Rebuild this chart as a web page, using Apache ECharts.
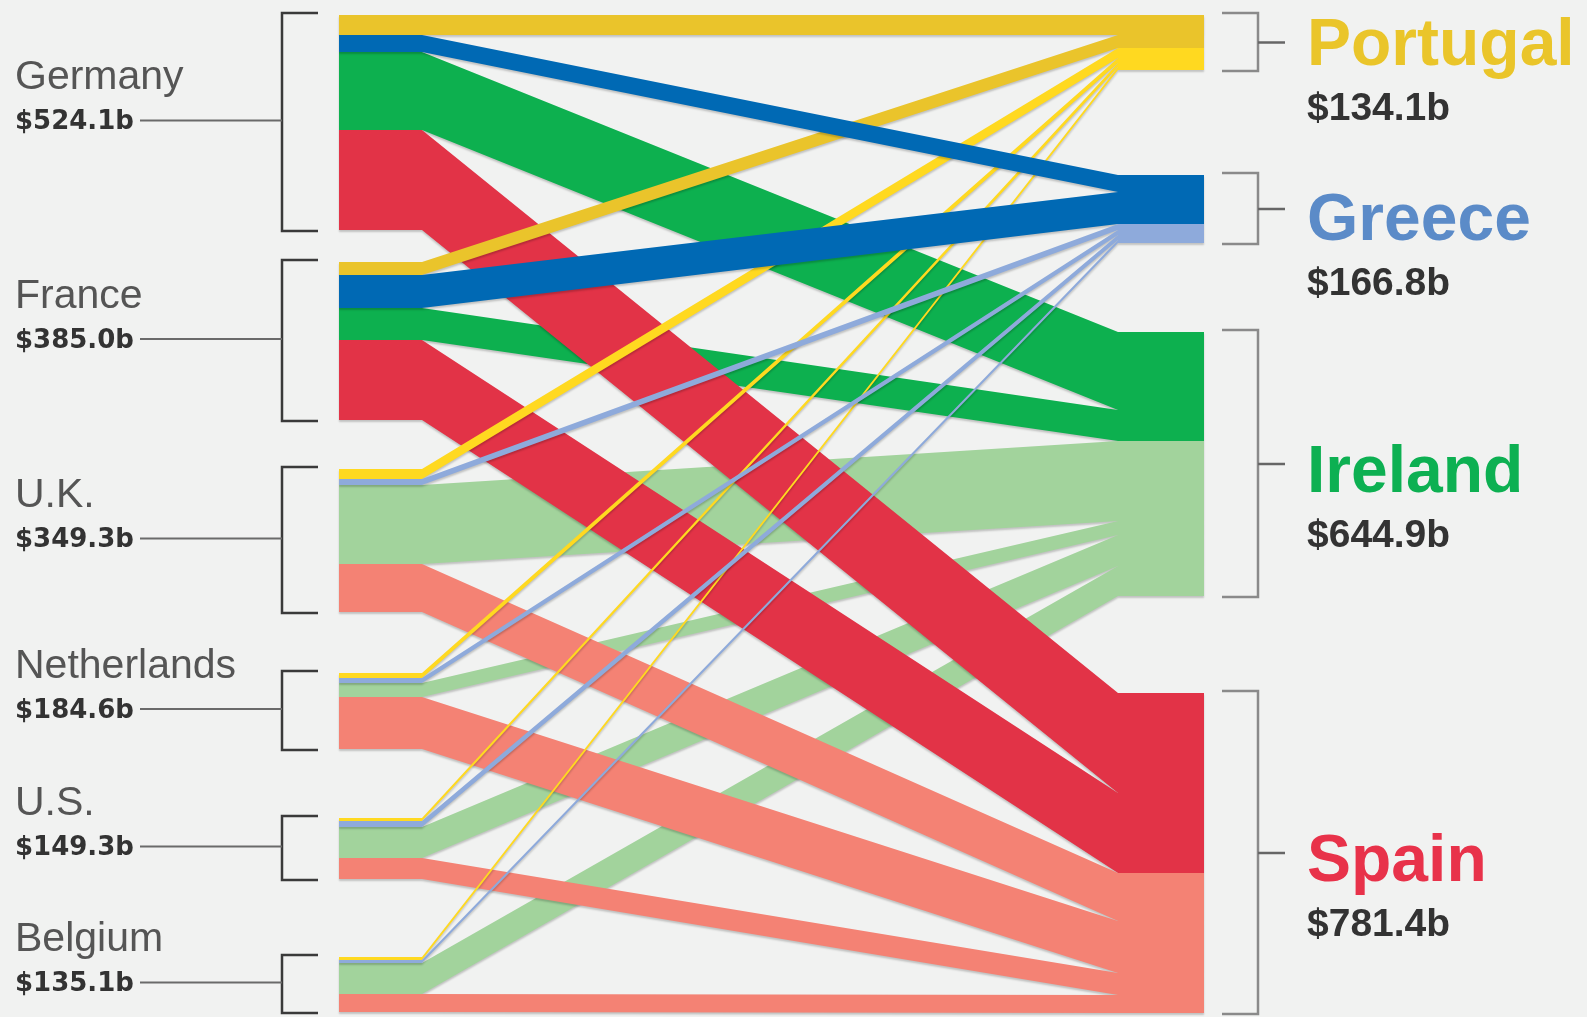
<!DOCTYPE html>
<html>
<head>
<meta charset="utf-8">
<script src="https://cdn.jsdelivr.net/npm/echarts@6/dist/echarts.min.js"></script>
<style>
  html, body { margin: 0; padding: 0; background: #F1F2F1; }
  #chart { width: 1587px; height: 1017px; }
</style>
</head>
<body>
<div id="chart"></div>
<script>
// Lenders (left) and borrowers (right), $ billions
const SOURCES = ['Germany', 'France', 'U.K.', 'Netherlands', 'U.S.', 'Belgium'];
const SOURCE_TOTALS = [524.1, 385.0, 349.3, 184.6, 149.3, 135.1];
const TARGETS = ['Portugal', 'Greece', 'Ireland', 'Spain'];
const TARGET_TOTALS = [134.1, 166.8, 644.9, 781.4];

// Exposure of each lender to each borrower, in SOURCES order
const TO_PORTUGAL = [48.8, 32.3, 24.0, 12.5, 8.8, 7.7];
const TO_GREECE   = [41.4, 79.5, 14.0, 11.5, 12.4, 8.0];
const TO_IRELAND  = [190.1, 77.0, 194.1, 34.1, 75.6, 74.0];
const TO_SPAIN    = [243.8, 196.2, 117.2, 126.5, 52.5, 45.4];
const FLOWS = [TO_PORTUGAL, TO_GREECE, TO_IRELAND, TO_SPAIN];

// ---- layout (vertical: value units, horizontal: pixel units) ----
const LEFT_GAPS = [79, 120, 148, 169, 190];
const RIGHT_GAPS = [256, 216, 236];
const Y_MAX = 2440;
const X = {
  leftStart: 339, leftEnd: 422, rightStart: 1118, rightEnd: 1204,
  leftLabel: 15, leftLine: 140, leftBracket: 282, leftTick: 318,
  rightTick: 1222, rightBracket: 1258, rightMidTick: 1285, rightLabel: 1307
};
const RIGHT_TITLE_SHIFT = [0, 9, 6, 6]; // title offset from the bracket midpoint, px

// ---- styles ----
const DARK_LENDERS = 2; // Germany and France use the deeper shade
const COLORS = {
  Portugal: { dark: '#EAC42B', light: '#FFD920', title: '#EAC52A' },
  Greece:   { dark: '#0069B4', light: '#8EAADB', title: '#5B8BC8' },
  Ireland:  { dark: '#0DB04F', light: '#A2D39C', title: '#0DB052' },
  Spain:    { dark: '#E23347', light: '#F48274', title: '#E8324A' }
};
const DRAW_ORDER = [2, 3, 0, 1]; // Ireland, Spain, then the thin Portugal / Greece strands on top

const fmt = v => '$' + v.toFixed(1) + 'b';

// Stack the blocks on each side
const leftTop = [], leftBot = [];
let acc = 0;
SOURCES.forEach((s, i) => {
  if (i > 0) acc += LEFT_GAPS[i - 1];
  leftTop.push(acc);
  FLOWS.forEach(f => { acc += f[i]; });
  leftBot.push(acc);
});
const rightTop = [], rightBot = [];
acc = 0;
TARGETS.forEach((t, j) => {
  if (j > 0) acc += RIGHT_GAPS[j - 1];
  rightTop.push(acc);
  FLOWS[j].forEach(v => { acc += v; });
  rightBot.push(acc);
});

// Band end positions: lender block stacks borrowers in order, borrower block stacks lenders in order
const bands = {};
SOURCES.forEach((s, i) => {
  let y = leftTop[i];
  FLOWS.forEach((f, j) => { bands[i + '_' + j] = { l0: y, l1: y + f[i] }; y += f[i]; });
});
TARGETS.forEach((t, j) => {
  let y = rightTop[j];
  FLOWS[j].forEach((v, i) => { const b = bands[i + '_' + j]; b.r0 = y; b.r1 = y + v; y += v; });
});
const bandData = [];
DRAW_ORDER.forEach(j => {
  SOURCES.forEach((s, i) => {
    const b = bands[i + '_' + j];
    bandData.push([i, j, b.l0, b.l1, b.r0, b.r1]);
  });
});

const groupData = [];
SOURCES.forEach((s, i) => groupData.push([0, i, leftTop[i], leftBot[i]]));
TARGETS.forEach((t, j) => groupData.push([1, j, rightTop[j], rightBot[j]]));

function renderBand(params, api) {
  const i = api.value(0), j = api.value(1);
  const l0 = api.value(2), l1 = api.value(3), r0 = api.value(4), r1 = api.value(5);
  // snap to whole pixels so stacked bands meet without seams
  const p = (x, y) => api.coord([x, y]).map(Math.round);
  const points = [
    p(X.leftStart, l0), p(X.leftEnd, l0), p(X.rightStart, r0), p(X.rightEnd, r0),
    p(X.rightEnd, r1), p(X.rightStart, r1), p(X.leftEnd, l1), p(X.leftStart, l1)
  ];
  const c = COLORS[TARGETS[j]];
  return {
    type: 'polygon',
    shape: { points: points },
    style: {
      fill: i < DARK_LENDERS ? c.dark : c.light,
      // shadow falls below the band only
      shadowBlur: 2, shadowOffsetY: 2, shadowColor: 'rgba(0,0,0,0.2)'
    }
  };
}

function textEl(text, x, y, font, fill) {
  return {
    type: 'text',
    style: {
      text: text, x: x, y: y, font: font, fill: fill,
      align: 'left', verticalAlign: 'middle',
      textAlign: 'left', textVerticalAlign: 'middle'
    }
  };
}

function renderGroup(params, api) {
  const side = api.value(0), k = api.value(1);
  const yTop = Math.round(api.coord([0, api.value(2)])[1]);
  const yBot = Math.round(api.coord([0, api.value(3)])[1]);
  const yMid = (yTop + yBot) / 2;
  const xAt = x => api.coord([x, 0])[0];
  if (side === 0) {
    const bx = xAt(X.leftBracket), tx = xAt(X.leftTick);
    const lineY = yMid - 2;
    return {
      type: 'group',
      children: [
        { type: 'polyline',
          shape: { points: [[tx, yTop - 2], [bx, yTop - 2], [bx, yBot + 1], [tx, yBot + 1]] },
          style: { stroke: '#3a3a3a', lineWidth: 2.5, fill: null } },
        { type: 'line',
          shape: { x1: xAt(X.leftLine), y1: lineY, x2: bx, y2: lineY },
          style: { stroke: '#6a6a6a', lineWidth: 2 } },
        textEl(SOURCES[k], xAt(X.leftLabel), lineY - 42.5, '41px "Liberation Sans"', '#555555'),
        textEl(fmt(SOURCE_TOTALS[k]), xAt(X.leftLabel), lineY + 2, 'bold 26px "DejaVu Sans"', '#333333')
      ]
    };
  }
  const bx = xAt(X.rightBracket), tx = xAt(X.rightTick);
  const titleY = yMid + RIGHT_TITLE_SHIFT[k];
  return {
    type: 'group',
    children: [
      { type: 'polyline',
        shape: { points: [[tx, yTop - 2], [bx, yTop - 2], [bx, yBot + 1], [tx, yBot + 1]] },
        style: { stroke: '#8a8a8a', lineWidth: 2.5, fill: null } },
      { type: 'line',
        shape: { x1: bx, y1: yMid, x2: xAt(X.rightMidTick), y2: yMid },
        style: { stroke: '#666666', lineWidth: 2.5 } },
      textEl(TARGETS[k], xAt(X.rightLabel), titleY + 4, 'bold 66px "Liberation Sans"', COLORS[TARGETS[k]].title),
      textEl(fmt(TARGET_TOTALS[k]), xAt(X.rightLabel), titleY + 66.5, 'bold 39px "Liberation Sans"', '#333333')
    ]
  };
}

const chart = echarts.init(document.getElementById('chart'));
chart.setOption({
  backgroundColor: '#F1F2F1',
  animation: false,
  grid: { left: 0, right: 0, top: 15, bottom: 2 },
  xAxis: { type: 'value', min: 0, max: 1587, show: false },
  yAxis: { type: 'value', min: 0, max: Y_MAX, inverse: true, show: false },
  series: [
    { type: 'custom', renderItem: renderBand, data: bandData, silent: true },
    { type: 'custom', renderItem: renderGroup, data: groupData, silent: true }
  ]
});
</script>
</body>
</html>
